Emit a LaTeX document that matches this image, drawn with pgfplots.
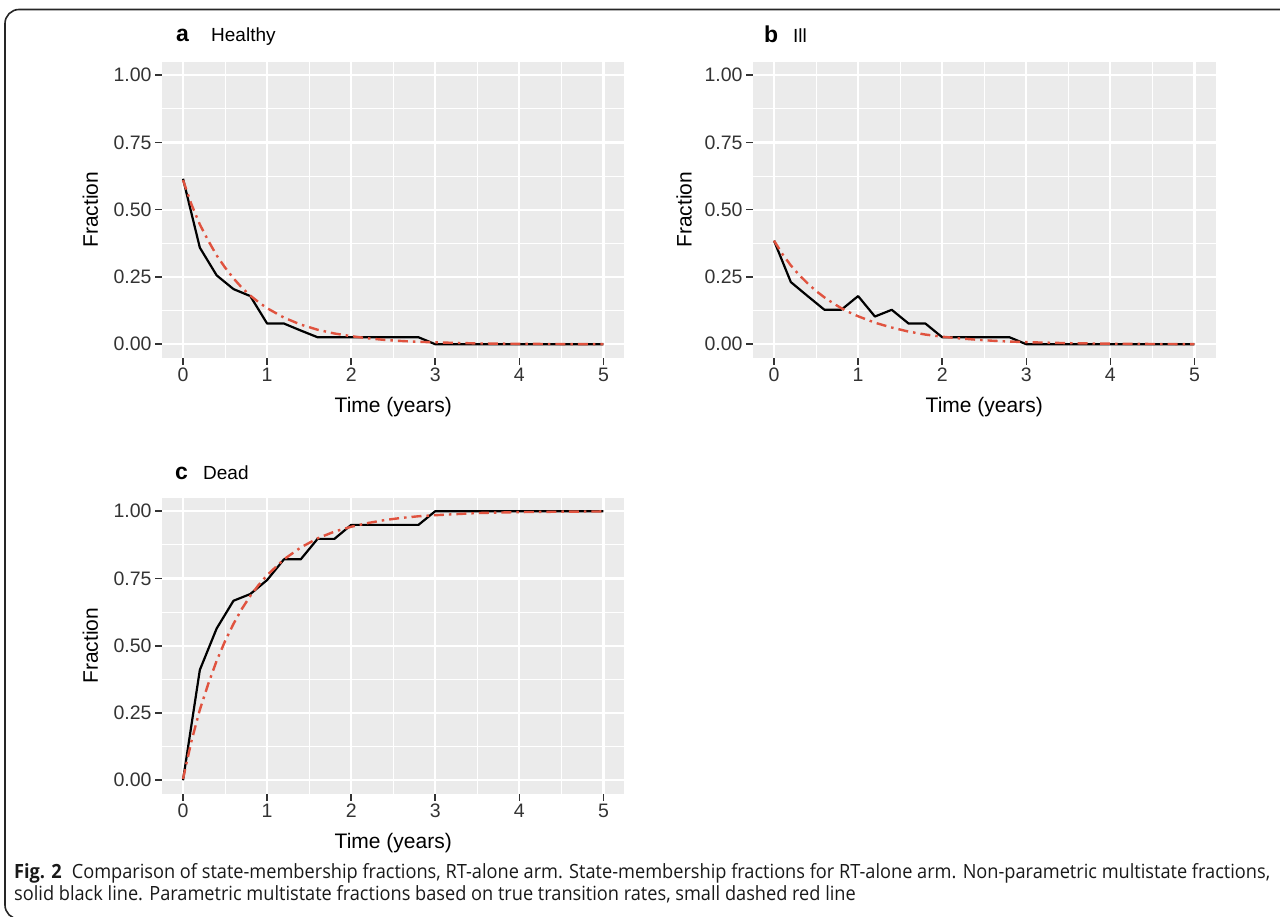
\documentclass[border=0pt]{standalone}
\usepackage{fontspec}
\setmainfont{Liberation Sans}
\newfontfamily\capfont{Open Sans}
\usepackage{graphicx}
\usepackage{pgfplots}
\pgfplotsset{compat=1.18}

\definecolor{panelbg}{HTML}{EBEBEB}
\definecolor{fitred}{HTML}{E0533F}
\definecolor{tickgrey}{HTML}{333333}

\pgfplotsset{
  ggpanel/.style={
    scale only axis, width=462.5pt, height=296pt,
    xmin=-0.25, xmax=5.25, ymin=-0.05, ymax=1.05,
    axis background/.style={fill=panelbg},
    axis line style={draw=none},
    xtick={0,1,2,3,4,5}, ytick={0,0.25,0.5,0.75,1},
    minor xtick={0.5,1.5,2.5,3.5,4.5},
    minor ytick={0.125,0.375,0.625,0.875},
    grid=both,
    major grid style={white, line width=2.2pt},
    minor grid style={white, line width=1.1pt},
    tick pos=left, tick align=outside,
    major tick length=7pt, minor tick length=0pt,
    tick style={tickgrey, line width=1.6pt},
    ticklabel style={font=\fontsize{19.5}{22}\selectfont, text=tickgrey},
    y tick label style={/pgf/number format/fixed,
      /pgf/number format/fixed zerofill, /pgf/number format/precision=2},
    /pgf/number format/assume math mode=true,
    xlabel={Time (years)}, ylabel={Fraction},
    label style={font=\fontsize{21}{24}\selectfont},
    xlabel style={at={(axis description cs:0.5,-0.185)}, anchor=base},
    ylabel style={at={(axis description cs:-0.155,0.5)}, anchor=center},
  },
  np/.style={black, line width=2.2pt, line join=round},
  par/.style={fitred, line width=2.4pt, dash pattern=on 10pt off 5pt on 2.5pt off 5pt},
}

\begin{document}
\begin{tikzpicture}
\path[use as bounding box] (0,0) rectangle (1280pt,-917pt);

% figure frame
\begin{scope}
\clip (0,0) rectangle (1280pt,-917pt);
\draw[black!85, line width=1.6pt, rounded corners=14pt] (5pt,-9.5pt) rectangle (1300pt,-919pt);
\end{scope}

% panel titles
\node[anchor=base west, inner sep=0] at (176pt,-41.5pt) {\fontsize{23}{26}\selectfont\bfseries a};
\node[anchor=base west, inner sep=0] at (211pt,-41.5pt) {\fontsize{19}{22}\selectfont Healthy};
\node[anchor=base west, inner sep=0] at (764pt,-42.5pt) {\fontsize{23}{26}\selectfont\bfseries b};
\node[anchor=base west, inner sep=0] at (793pt,-42.5pt) {\fontsize{19}{22}\selectfont Ill};
\node[anchor=base west, inner sep=0] at (175pt,-479pt) {\fontsize{23}{26}\selectfont\bfseries c};
\node[anchor=base west, inner sep=0] at (203pt,-479pt) {\fontsize{19}{22}\selectfont Dead};

% a Healthy
\begin{axis}[ggpanel, at={(162pt,-357.7pt)}, anchor=south west]
\addplot[np] coordinates {
  (0,0.615) (0.2,0.359) (0.4,0.256) (0.6,0.205) (0.8,0.179) (1.0,0.077)
  (1.2,0.077) (1.4,0.051) (1.6,0.026) (1.8,0.026) (2.0,0.026) (2.8,0.026)
  (3.0,0) (5.0,0)
};
\addplot[par] coordinates {
  (0,0.61) (0.1,0.52) (0.2,0.445) (0.3,0.385) (0.4,0.33) (0.5,0.285)
  (0.6,0.245) (0.7,0.21) (0.8,0.181) (0.9,0.156) (1.0,0.134) (1.2,0.099)
  (1.4,0.073) (1.6,0.054) (1.8,0.040) (2.0,0.030) (2.2,0.022) (2.4,0.016)
  (2.6,0.012) (2.8,0.009) (3.0,0.007) (3.5,0.003) (4.0,0.0015) (4.5,0.0007) (5.0,0.0003)
};
\end{axis}

% b Ill
\begin{axis}[ggpanel, at={(753pt,-357.7pt)}, anchor=south west,
  ylabel style={at={(axis description cs:-0.149,0.5)}, anchor=center}]
\addplot[np] coordinates {
  (0,0.385) (0.2,0.231) (0.4,0.179) (0.6,0.128) (0.8,0.128) (1.0,0.179)
  (1.2,0.103) (1.4,0.128) (1.6,0.077) (1.8,0.077) (2.0,0.026) (2.8,0.026)
  (3.0,0) (5.0,0)
};
\addplot[par] coordinates {
  (0,0.385) (0.1,0.335) (0.2,0.293) (0.3,0.257) (0.4,0.226) (0.5,0.198)
  (0.6,0.174) (0.7,0.153) (0.8,0.134) (0.9,0.118) (1.0,0.104) (1.2,0.080)
  (1.4,0.062) (1.6,0.047) (1.8,0.036) (2.0,0.028) (2.2,0.022) (2.4,0.017)
  (2.6,0.013) (2.8,0.010) (3.0,0.0077) (3.5,0.004) (4.0,0.002) (4.5,0.001) (5.0,0.0005)
};
\end{axis}

% c Dead
\begin{axis}[ggpanel, at={(162pt,-793.7pt)}, anchor=south west]
\addplot[np] coordinates {
  (0,0) (0.2,0.410) (0.4,0.564) (0.6,0.667) (0.8,0.692) (1.0,0.744)
  (1.2,0.821) (1.4,0.821) (1.6,0.897) (1.8,0.897) (2.0,0.949) (2.8,0.949)
  (3.0,1) (5.0,1)
};
\addplot[par] coordinates {
  (0,0.005) (0.1,0.145) (0.2,0.262) (0.3,0.358) (0.4,0.444) (0.5,0.517)
  (0.6,0.581) (0.7,0.637) (0.8,0.685) (0.9,0.726) (1.0,0.762) (1.2,0.821)
  (1.4,0.865) (1.6,0.899) (1.8,0.924) (2.0,0.942) (2.2,0.956) (2.4,0.967)
  (2.6,0.975) (2.8,0.981) (3.0,0.985) (3.5,0.993) (4.0,0.9965) (4.5,0.998) (5.0,0.999)
};
\end{axis}

% caption
\node[anchor=base west, inner sep=0] at (14pt,-878pt) {\resizebox{1256pt}{\height}{%
  \capfont\fontsize{19.6}{22}\selectfont\color{black!90}%
  \begin{tabular}[t]{@{}l@{}}
  \textbf{Fig. 2}\hspace{0.55em}Comparison of state-membership fractions, RT-alone arm. State-membership fractions for RT-alone arm. Non-parametric multistate fractions,\\
  solid black line. Parametric multistate fractions based on true transition rates, small dashed red line
  \end{tabular}}};
\end{tikzpicture}
\end{document}
